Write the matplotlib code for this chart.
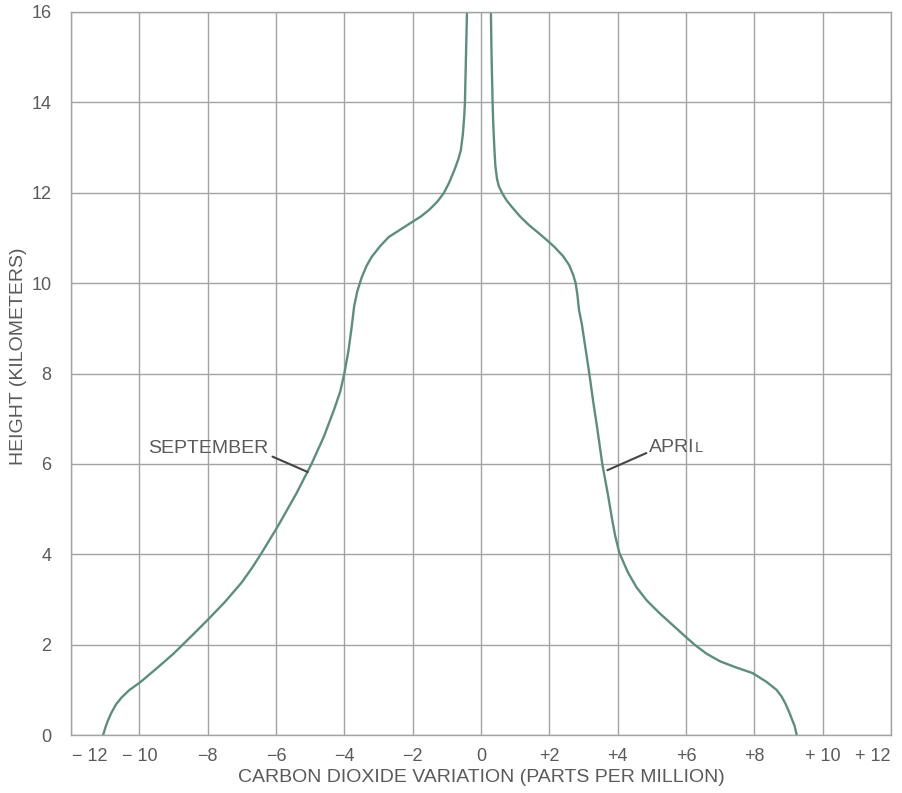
import numpy as np
import matplotlib.pyplot as plt
import matplotlib.transforms as mtransforms

plt.rcParams['font.family'] = ['Liberation Sans', 'DejaVu Sans']

# September profile (ppm, km)
sep_x = [-11.06, -11.00, -10.92, -10.82, -10.68, -10.52, -10.30, -9.97, -9.50, -9.00,
         -8.50, -8.01, -7.50, -7.00, -6.70, -6.42, -6.01, -5.84, -5.40, -4.96,
         -4.60, -4.30, -4.12, -4.00, -3.88, -3.79, -3.71, -3.62, -3.49, -3.35,
         -3.20, -2.95, -2.70, -2.35, -2.02, -1.75, -1.52, -1.28, -1.09, -0.94,
         -0.78, -0.66, -0.59, -0.53, -0.49, -0.47, -0.44, -0.41]
sep_y = [0.00, 0.15, 0.32, 0.49, 0.68, 0.83, 0.99, 1.17, 1.47, 1.80,
         2.17, 2.54, 2.94, 3.38, 3.70, 4.03, 4.54, 4.76, 5.35, 6.00,
         6.60, 7.20, 7.60, 8.00, 8.50, 9.00, 9.50, 9.82, 10.13, 10.38,
         10.58, 10.82, 11.02, 11.19, 11.35, 11.48, 11.62, 11.80, 11.99, 12.21,
         12.50, 12.75, 12.94, 13.30, 13.70, 14.00, 15.00, 16.00]

# April profile
apr_x = [9.24, 9.18, 9.10, 9.03, 8.92, 8.80, 8.65, 8.35, 7.95, 7.45,
         7.00, 6.60, 6.25, 5.98, 5.60, 5.22, 4.85, 4.55, 4.30, 4.05,
         3.93, 3.84, 3.72, 3.55, 3.40, 3.28, 3.17, 3.05, 2.95, 2.87,
         2.82, 2.77, 2.70, 2.58, 2.40, 2.15, 1.99, 1.70, 1.41, 1.15,
         0.91, 0.75, 0.62, 0.52, 0.47, 0.42, 0.39, 0.36, 0.34, 0.31, 0.29]
apr_y = [0.00, 0.20, 0.35, 0.49, 0.68, 0.85, 1.00, 1.18, 1.37, 1.50,
         1.63, 1.80, 2.00, 2.18, 2.44, 2.70, 2.98, 3.27, 3.60, 4.03,
         4.40, 4.76, 5.30, 6.00, 6.80, 7.40, 8.00, 8.60, 9.10, 9.40,
         9.75, 10.00, 10.18, 10.40, 10.60, 10.80, 10.91, 11.10, 11.28, 11.47,
         11.68, 11.83, 11.99, 12.15, 12.30, 12.60, 13.00, 13.50, 14.00, 15.00, 16.00]

xticks = [-12, -10, -8, -6, -4, -2, 0, 2, 4, 6, 8, 10, 12]
xlabels = ['\u2212 12', '\u2212 10', '\u22128', '\u22126', '\u22124', '\u22122', '0',
           '+2', '+4', '+6', '+8', '+ 10', '+ 12']
yticks = [0, 2, 4, 6, 8, 10, 12, 14, 16]

line_col = '#5e8d80'
txt_col = '#5a5a5a'
grid_col = '#a3a3a3'

fig = plt.figure(figsize=(9.02, 7.93), dpi=100)
ax = fig.add_axes([0.0787, 0.0731, 0.9091, 0.9118])

ax.plot(sep_x, sep_y, color=line_col, lw=1.7)
ax.plot(apr_x, apr_y, color=line_col, lw=1.7)

ax.set_xlim(-12, 12)
ax.set_ylim(0, 16)
ax.set_xticks(xticks)
ax.set_xticklabels(xlabels)
ax.set_yticks(yticks)
ax.grid(True, color=grid_col, lw=1.0)
ax.set_axisbelow(True)
for s in ax.spines.values():
    s.set_color(grid_col)
    s.set_linewidth(1.0)
ax.tick_params(length=0, labelsize=13, labelcolor=txt_col, pad=9)
ax.tick_params(axis='y', pad=14)

# end labels sit inside the frame in the original
xl = ax.get_xticklabels()
xl[0].set_transform(xl[0].get_transform() + mtransforms.ScaledTranslation(0.19, 0, fig.dpi_scale_trans))
xl[-1].set_transform(xl[-1].get_transform() + mtransforms.ScaledTranslation(-0.18, 0, fig.dpi_scale_trans))

ax.set_xlabel('CARBON DIOXIDE VARIATION (PARTS PER MILLION)', fontsize=14,
              color=txt_col, labelpad=3)
ax.set_ylabel('HEIGHT (KILOMETERS)', fontsize=14, color=txt_col)
ax.yaxis.set_label_coords(-0.054, 0.524)

ax.annotate('SEPTEMBER', xy=(-5.07, 5.82), xytext=(-9.74, 6.35),
            fontsize=14, color=txt_col, va='center', ha='left',
            arrowprops=dict(arrowstyle='-', color='#444444', lw=1.5,
                            shrinkA=1, shrinkB=0, relpos=(1, 0.1)))
t = ax.text(4.93, 6.37, 'APRI', fontsize=14, color=txt_col, va='center', ha='left')
ax.annotate('L', xy=(1, 0.2), xycoords=t, fontsize=10.5, color=txt_col,
            va='baseline', ha='left')
ax.annotate('', xy=(3.70, 5.86), xytext=(4.84, 6.24),
            arrowprops=dict(arrowstyle='-', color='#444444', lw=1.5,
                            shrinkA=0, shrinkB=0))

fig.savefig('out.png', dpi=100)
